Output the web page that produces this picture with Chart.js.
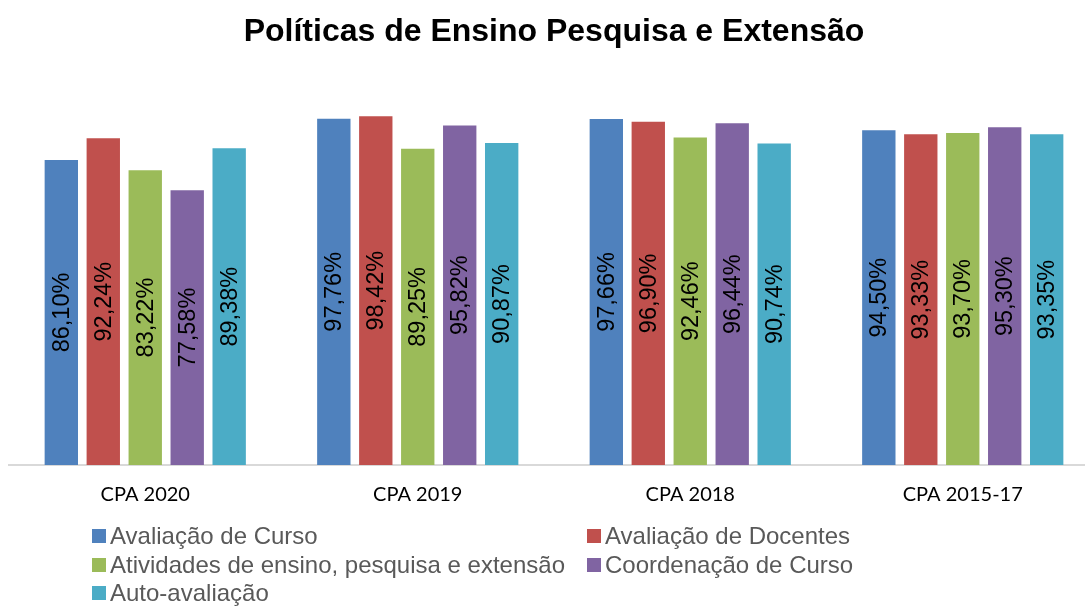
<!DOCTYPE html>
<html lang="pt-BR">
<head>
<meta charset="utf-8">
<title>Políticas de Ensino Pesquisa e Extensão</title>
<script src="https://cdn.jsdelivr.net/npm/chart.js@4.4.1/dist/chart.umd.min.js"></script>
<style>
    html, body { margin: 0; padding: 0; background: #fff; overflow: hidden; }
    #wrap { position: relative; width: 1085px; height: 609px; overflow: hidden; }
    #chart { position: absolute; left: 0; top: 0; }
    .legend { position: absolute; font-family: 'Liberation Sans', Arial, sans-serif; font-size: 24px; color: #595959; white-space: nowrap; }
    .legend .item { position: absolute; height: 28px; line-height: 28px; }
    .legend .box { position: absolute; left: 0; top: 7px; width: 14px; height: 14px; }
    .legend .txt { position: absolute; left: 18px; top: 0; }
</style>
</head>
<body>
<div id="wrap">
    <canvas id="chart" width="1107" height="609"></canvas>
    <div class="legend" id="legend"></div>
</div>
<script>
const categories = ['CPA 2020', 'CPA 2019', 'CPA 2018', 'CPA 2015-17'];
const seriesNames = [
    'Avaliação de Curso',
    'Avaliação de Docentes',
    'Atividades de ensino, pesquisa e extensão',
    'Coordenação de Curso',
    'Auto-avaliação'
];
const avaliacaoCurso = [86.10, 97.76, 97.66, 94.50];
const avaliacaoDocentes = [92.24, 98.42, 96.90, 93.33];
const atividadesEnsino = [83.22, 89.25, 92.46, 93.70];
const coordenacaoCurso = [77.58, 95.82, 96.44, 95.30];
const autoAvaliacao = [89.38, 90.87, 90.74, 93.35];
const colors = ['#4F81BD', '#C0504D', '#9BBB59', '#8064A2', '#4BACC6'];

const seriesValues = [avaliacaoCurso, avaliacaoDocentes, atividadesEnsino, coordenacaoCurso, autoAvaliacao];

// value labels written vertically in the middle of each bar
const barLabels = {
    id: 'barLabels',
    afterDatasetsDraw(chart) {
        const ctx = chart.ctx;
        ctx.save();
        ctx.font = '23.5px "Liberation Sans", Arial, sans-serif';
        ctx.fillStyle = '#000';
        ctx.textAlign = 'center';
        ctx.textBaseline = 'middle';
        chart.data.datasets.forEach((ds, i) => {
            chart.getDatasetMeta(i).data.forEach((bar, j) => {
                const txt = ds.data[j].toFixed(2).replace('.', ',') + '%';
                ctx.save();
                ctx.translate(bar.x + 1, (bar.y + bar.base) / 2);
                ctx.rotate(-Math.PI / 2);
                ctx.fillText(txt, 0, 0);
                ctx.restore();
            });
        });
        ctx.restore();
    }
};

const chart = new Chart(document.getElementById('chart'), {
    type: 'bar',
    data: {
        labels: categories,
        datasets: seriesValues.map((vals, i) => ({
            label: seriesNames[i],
            data: vals,
            backgroundColor: colors[i],
            borderWidth: 0,
            categoryPercentage: 0.77,
            barPercentage: 0.795
        }))
    },
    options: {
        responsive: false,
        animation: false,
        layout: {
            padding: { left: 9, right: 8, top: 0, bottom: 84 }
        },
        plugins: {
            legend: { display: false },
            tooltip: { enabled: false },
            title: {
                display: true,
                text: 'Políticas de Ensino Pesquisa e Extensão',
                color: '#000',
                font: { family: '"Liberation Sans", Arial, sans-serif', size: 32, weight: 'bold' },
                padding: { top: 13, bottom: 59.3 }
            }
        },
        scales: {
            x: {
                grid: { display: false, drawTicks: false },
                border: { display: true, color: '#d9d9d9', width: 2 },
                ticks: {
                    color: '#000',
                    padding: 18,
                    font: { family: 'Lato', size: 20 }
                }
            },
            y: {
                display: false,
                min: 0,
                max: 100
            }
        }
    },
    plugins: [barLabels]
});

// two-column legend under the chart
const legendEl = document.getElementById('legend');
const colX = [92, 587];
const rowY = [522, 550.5, 579];
seriesNames.forEach((name, i) => {
    const item = document.createElement('div');
    item.className = 'item';
    item.style.left = colX[i % 2] + 'px';
    item.style.top = rowY[Math.floor(i / 2)] + 'px';
    item.innerHTML = '<span class="box" style="background:' + colors[i] + '"></span><span class="txt"></span>';
    item.querySelector('.txt').textContent = name;
    legendEl.appendChild(item);
});
</script>
</body>
</html>
